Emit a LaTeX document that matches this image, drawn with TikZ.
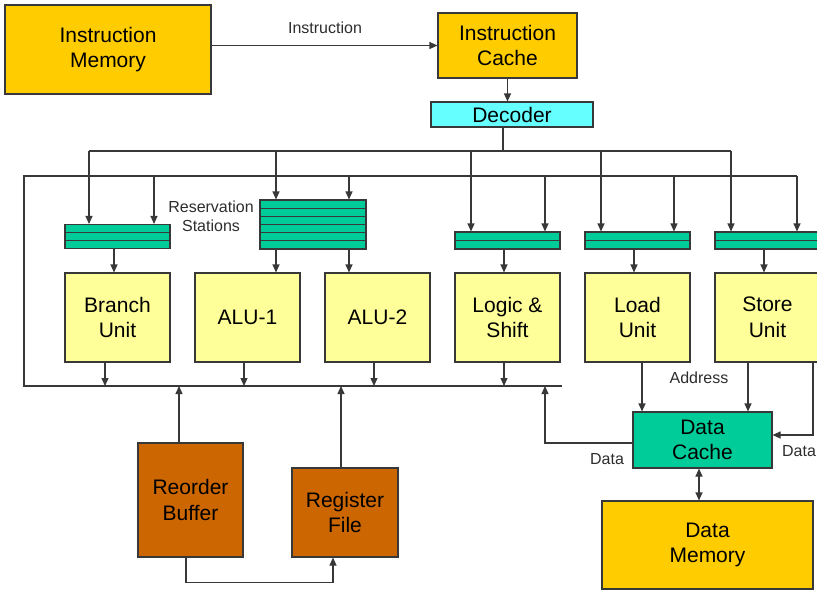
\documentclass[tikz,border=0pt]{standalone}
\usepackage{fontspec}
\setmainfont{Liberation Sans}
\usetikzlibrary{arrows.meta,calc}
\definecolor{memgold}{HTML}{FFCC00}
\definecolor{unityellow}{HTML}{FFFF99}
\definecolor{rsgreen}{HTML}{00CC99}
\definecolor{deccyan}{HTML}{66FFFF}
\definecolor{robrown}{HTML}{CC6600}
\definecolor{wiregray}{HTML}{383838}
\begin{document}
\begin{tikzpicture}[x=1pt,y=-1pt,
  wire/.style={draw=wiregray,line width=1.1pt},
  arr/.style={wire,-{Triangle[length=8pt,width=7pt]}},
  arrtwo/.style={wire,{Triangle[length=8pt,width=7pt]}-{Triangle[length=8pt,width=7pt]}},
  blk/.style={draw=wiregray,line width=1.1pt,inner sep=0pt,align=center,
    font=\fontsize{21}{25.5}\selectfont},
  mem/.style={blk,fill=memgold},
  fu/.style={blk,fill=unityellow,minimum width=105pt,minimum height=89pt},
  rs/.style={draw=wiregray,line width=1.1pt,fill=rsgreen,inner sep=0pt,
    minimum width=105pt,
    path picture={\pgfmathtruncatemacro\nm{#1-1}
      \foreach \k in {1,...,\nm}{
        \draw[wiregray,line width=0.9pt]
          ($(path picture bounding box.north west)!{\k/#1}!(path picture bounding box.south west)$) --
          ($(path picture bounding box.north east)!{\k/#1}!(path picture bounding box.south east)$);}}},
  lbl/.style={font=\fontsize{16}{19}\selectfont,align=center,inner sep=0pt,text=wiregray!80!black}]
\useasboundingbox (0,0) rectangle (817,590);

% fetch and decode
\node[mem,minimum width=206pt,minimum height=89pt] (imem) at (108,49.5) {Instruction\\Memory};
\node[mem,minimum width=139pt,minimum height=65pt] (icache) at (507.5,45.5) {Instruction\\Cache};
\node[blk,fill=deccyan,minimum width=162pt,minimum height=25pt] (dec) at (512,114.5) {Decoder};
\draw[arr] (icache.west -| imem.east) -- (icache.west);
\node[lbl] (instlbl) at (325,28) {Instruction};
\draw[arr] (icache.south) -- (icache.south |- dec.north);

% reservation stations
\node[rs=3,minimum height=24pt] (rsB) at (117.5,236.5) {};
\node[rs=6,minimum height=49pt,minimum width=106pt] (rsA) at (313,224.5) {};
\node[rs=2,minimum height=17pt] (rsL) at (507.5,240.5) {};
\node[rs=2,minimum height=17pt] (rsLd) at (637.5,240.5) {};
\node[rs=2,minimum height=17pt] (rsS) at (767.5,240.5) {};
\node[lbl] (rslbl) at (211,216.5) {Reservation\\Stations};

% functional units
\node[fu] (bu) at (117.5,317.5) {Branch\\Unit};
\node[fu] (alu1) at (247.5,317.5) {ALU-1};
\node[fu] (alu2) at (377.5,317.5) {ALU-2};
\node[fu] (ls) at (507.5,317.5) {Logic \&\\Shift};
\node[fu] (ld) at (637.5,317.5) {Load\\Unit};
\node[fu] (su) at (767.5,317.5) {Store\\Unit};

% commit side
\node[blk,fill=robrown,minimum width=105pt,minimum height=114pt] (rob) at (190.5,500) {Reorder\\Buffer};
\node[blk,fill=robrown,minimum width=106pt,minimum height=89pt] (rf) at (345,512.5) {Register\\File};

% memory side
\node[blk,fill=rsgreen,minimum width=139pt,minimum height=56pt] (dc) at (702.5,440) {Data\\Cache};
\node[mem,minimum width=211pt,minimum height=88pt] (dm) at (707.5,545) {Data\\Memory};

% issue bus from the decoder
\coordinate (dtap) at (503,151);
\coordinate (tb1) at (89,151);
\coordinate (tb2) at (276,151);
\coordinate (tb3) at (471,151);
\coordinate (tb4) at (601,151);
\coordinate (tb5) at (731,151);
\draw[wire] (dec.south -| dtap) -- (dtap);
\draw[wire] (tb1) -- (tb5);
\draw[arr] (tb1) -- (tb1 |- rsB.north);
\draw[arr] (tb2) -- (tb2 |- rsA.north);
\draw[arr] (tb3) -- (tb3 |- rsL.north);
\draw[arr] (tb4) -- (tb4 |- rsLd.north);
\draw[arr] (tb5) -- (tb5 |- rsS.north);

% result bus looping back to the stations
\coordinate (cb0) at (24,176);
\coordinate (cb1) at (154,176);
\coordinate (cb2) at (349,176);
\coordinate (cb3) at (545,176);
\coordinate (cb4) at (674,176);
\coordinate (cb5) at (797,176);
\coordinate (rb0) at (24,386);
\coordinate (rb1) at (562,386);
\coordinate (dret) at (545,386);
\draw[wire] (cb5) -- (cb0) -- (rb0) -- (rb1);
\draw[arr] (cb1) -- (cb1 |- rsB.north);
\draw[arr] (cb2) -- (cb2 |- rsA.north);
\draw[arr] (cb3) -- (cb3 |- rsL.north);
\draw[arr] (cb4) -- (cb4 |- rsLd.north);
\draw[arr] (cb5) -- (cb5 |- rsS.north);

% stations to units
\draw[arr] ([xshift=-3.5pt]rsB.south) -- ([xshift=-3.5pt]rsB.south |- bu.north);
\draw[arr] ([xshift=-37pt]rsA.south) -- ([xshift=-37pt]rsA.south |- alu1.north);
\draw[arr] ([xshift=36pt]rsA.south) -- ([xshift=36pt]rsA.south |- alu2.north);
\draw[arr] ([xshift=-3.5pt]rsL.south) -- ([xshift=-3.5pt]rsL.south |- ls.north);
\draw[arr] ([xshift=-3.5pt]rsLd.south) -- ([xshift=-3.5pt]rsLd.south |- ld.north);
\draw[arr] ([xshift=-3.5pt]rsS.south) -- ([xshift=-3.5pt]rsS.south |- su.north);

% units onto the result bus
\draw[arr] ([xshift=-12.5pt]bu.south) -- ([xshift=-12.5pt]bu.south |- rb0);
\draw[arr] ([xshift=-3.5pt]alu1.south) -- ([xshift=-3.5pt]alu1.south |- rb0);
\draw[arr] ([xshift=-3.5pt]alu2.south) -- ([xshift=-3.5pt]alu2.south |- rb0);
\draw[arr] ([xshift=-3.5pt]ls.south) -- ([xshift=-3.5pt]ls.south |- rb0);

% reorder buffer and register file
\draw[arr] ([xshift=-11.5pt]rob.north) -- ([xshift=-11.5pt]rob.north |- rb0);
\draw[arr] ([xshift=-4pt]rf.north) -- ([xshift=-4pt]rf.north |- rb0);
\draw[arr] ([xshift=-4.5pt]rob.south) -- ++(0,25) -| ([xshift=-12pt]rf.south);

% load/store paths
\draw[arr] ([xshift=4.5pt]ld.south) -- ([xshift=4.5pt]ld.south |- dc.north);
\draw[arr] ([xshift=-19.5pt]su.south) -- ([xshift=-19.5pt]su.south |- dc.north);
\draw[arr] ([xshift=45.5pt]su.south) |- ([yshift=5pt]dc.east);
\draw[arr] ([yshift=-3pt]dc.west) -| (dret);
\draw[arrtwo] ([xshift=-3.5pt]dc.south) -- ([xshift=-3.5pt]dc.south |- dm.north);
\node[lbl] (addrlbl) at (699,378) {Address};
\node[lbl] (dlblL) at (607,459) {Data};
\node[lbl] (dlblR) at (799,451) {Data};
\end{tikzpicture}
\end{document}
